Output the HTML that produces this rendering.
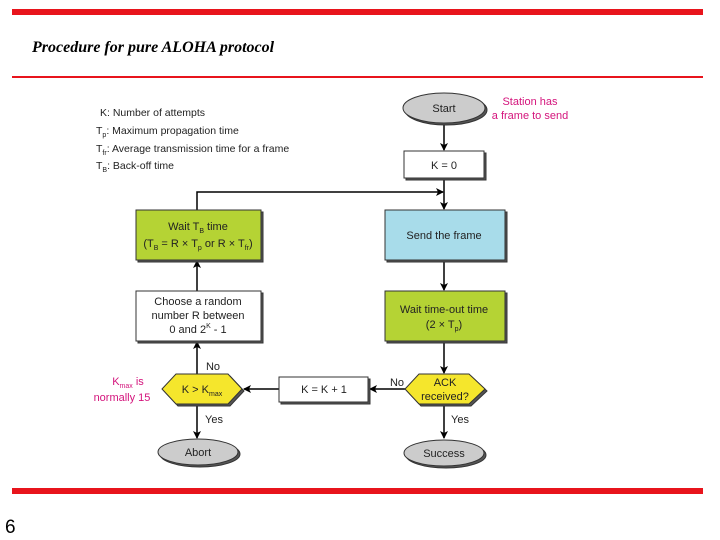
<!DOCTYPE html>
<html><head><meta charset="utf-8"><style>body{margin:0;background:#fff}svg{display:block}</style></head>
<body>
<svg width="720" height="540" viewBox="0 0 720 540" font-family="Liberation Sans, sans-serif">
<defs>
<marker id="a" markerWidth="8" markerHeight="8" refX="7" refY="4" orient="auto" markerUnits="userSpaceOnUse"><path d="M0,0 L8,4 L0,8 L2,4 z" fill="#000"/></marker>
</defs>
<rect x="12" y="9" width="691" height="6" fill="#e8141c"/>
<text x="32" y="52" font-family="Liberation Serif, serif" font-style="italic" font-weight="bold" font-size="16">Procedure for pure ALOHA protocol</text>
<rect x="12" y="76" width="691" height="2" fill="#e8141c"/>
<rect x="12" y="488" width="691" height="6" fill="#e8141c"/>
<text x="5" y="533" font-size="19">6</text>

<g font-size="10.5" fill="#222">
<text x="100" y="116">K: Number of attempts</text>
<text x="96" y="134">T<tspan font-size="7" dy="3">p</tspan><tspan dy="-3">: Maximum propagation time</tspan></text>
<text x="96" y="152">T<tspan font-size="7" dy="3">fr</tspan><tspan dy="-3">: Average transmission time for a frame</tspan></text>
<text x="96" y="169">T<tspan font-size="7" dy="3">B</tspan><tspan dy="-3">: Back-off time</tspan></text>
</g>
<g font-size="11" fill="#d4147c" text-anchor="middle">
<text x="530" y="105">Station has</text>
<text x="530" y="119">a frame to send</text>
<text x="128" y="385">K<tspan font-size="7" dy="3">max</tspan><tspan dy="-3"> is</tspan></text>
<text x="122" y="401">normally 15</text>
</g>

<g stroke="#000" stroke-width="1.5" fill="none">
<line x1="444" y1="124" x2="444" y2="150" marker-end="url(#a)"/>
<line x1="444" y1="179" x2="444" y2="209" marker-end="url(#a)"/>
<polyline points="197,210 197,192 443,192" marker-end="url(#a)"/>
<line x1="444" y1="261" x2="444" y2="290" marker-end="url(#a)"/>
<line x1="444" y1="342" x2="444" y2="373" marker-end="url(#a)"/>
<line x1="444" y1="404" x2="444" y2="438" marker-end="url(#a)"/>
<line x1="405" y1="389" x2="370" y2="389" marker-end="url(#a)"/>
<line x1="279" y1="389" x2="244" y2="389" marker-end="url(#a)"/>
<line x1="197" y1="374" x2="197" y2="342" marker-end="url(#a)"/>
<line x1="197" y1="291" x2="197" y2="261" marker-end="url(#a)"/>
<line x1="197" y1="404" x2="197" y2="438" marker-end="url(#a)"/>
</g>

<g stroke="#333" stroke-width="1">
<ellipse cx="446" cy="110" rx="41" ry="15" fill="#555"/>
<ellipse cx="444" cy="108" rx="41" ry="15" fill="#ccc"/>
<rect x="406" y="153" width="80" height="27" fill="#555"/>
<rect x="404" y="151" width="80" height="27" fill="#fff"/>
<rect x="138" y="212" width="125" height="50" fill="#555"/>
<rect x="136" y="210" width="125" height="50" fill="#b5d334"/>
<rect x="387" y="212" width="120" height="50" fill="#555"/>
<rect x="385" y="210" width="120" height="50" fill="#a8dcea"/>
<rect x="138" y="293" width="125" height="50" fill="#555"/>
<rect x="136" y="291" width="125" height="50" fill="#fff"/>
<rect x="387" y="293" width="120" height="50" fill="#555"/>
<rect x="385" y="291" width="120" height="50" fill="#b5d334"/>
<rect x="281" y="379" width="89" height="25" fill="#555"/>
<rect x="279" y="377" width="89" height="25" fill="#fff"/>
<polygon points="164,391 178,376 230,376 244,391 230,406 178,406" fill="#555"/>
<polygon points="162,389 176,374 228,374 242,389 228,404 176,404" fill="#f5e62c"/>
<polygon points="407,391 421,376 471,376 487,391 471,406 421,406" fill="#555"/>
<polygon points="405,389 419,374 469,374 485,389 469,404 419,404" fill="#f5e62c"/>
<ellipse cx="200" cy="454" rx="40" ry="13" fill="#555"/>
<ellipse cx="198" cy="452" rx="40" ry="13" fill="#ccc"/>
<ellipse cx="446" cy="455" rx="40" ry="13" fill="#555"/>
<ellipse cx="444" cy="453" rx="40" ry="13" fill="#ccc"/>
</g>

<g font-size="11" fill="#222" text-anchor="middle">
<text x="444" y="112">Start</text>
<text x="444" y="169">K = 0</text>
<text x="198" y="230">Wait T<tspan font-size="7" dy="3">B</tspan><tspan dy="-3"> time</tspan></text>
<text x="198" y="247">(T<tspan font-size="7" dy="3">B</tspan><tspan dy="-3"> = R × T</tspan><tspan font-size="7" dy="3">p</tspan><tspan dy="-3"> or R × T</tspan><tspan font-size="7" dy="3">fr</tspan><tspan dy="-3">)</tspan></text>
<text x="444" y="239">Send the frame</text>
<text x="198" y="305">Choose a random</text>
<text x="198" y="319">number R between</text>
<text x="198" y="333">0 and 2<tspan font-size="7" dy="-5">K</tspan><tspan dy="5"> - 1</tspan></text>
<text x="444" y="313">Wait time-out time</text>
<text x="444" y="328">(2 × T<tspan font-size="7" dy="3">p</tspan><tspan dy="-3">)</tspan></text>
<text x="202" y="393">K &gt; K<tspan font-size="7" dy="3">max</tspan></text>
<text x="324" y="393">K = K + 1</text>
<text x="445" y="386">ACK</text>
<text x="445" y="400">received?</text>
<text x="198" y="456">Abort</text>
<text x="444" y="457">Success</text>
<text x="213" y="370">No</text>
<text x="214" y="423">Yes</text>
<text x="397" y="386">No</text>
<text x="460" y="423">Yes</text>
</g>
</svg>
</body></html>
